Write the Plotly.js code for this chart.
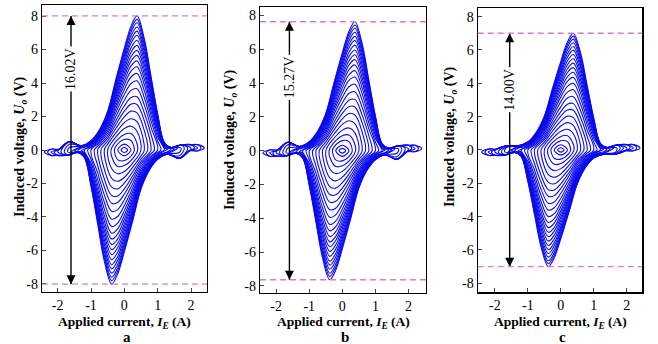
<!DOCTYPE html>
<html><head><meta charset="utf-8">
<script src="https://cdn.plot.ly/plotly-3.0.1.min.js"></script>
<style>html,body{margin:0;padding:0;background:#fff}#chart{width:658px;height:344px}</style>
</head><body><div id="chart"></div>
<script>
const _ = null;
// Applied current I_E (A) at which the rising branch of every loop was read
const currentGrid = [-2.2,-1.95,-1.65,-1.3,-1.0,-0.75,-0.5,-0.25,0,0.2,0.38,0.6,0.8,1.0,1.2,1.4,1.7,2.0,2.2];
// Current amplitude of each nested loop (A)
const loopAmps = [0.1,0.2,0.3,0.4,0.5,0.6,0.7,0.8,0.9,1.0,1.1,1.2,1.3,1.4,1.5,1.6,1.7,1.8,1.9,2.0,2.1,2.2,2.3,2.4];
// Voltage at the loop tips (V)
const tipVolts = [0,0,0,0,0,0,0,0,0,0,0,0,0.06,0.06,0.06,0.12,0.12,0.12,0.12,0.12,0.12,0.12,0.12,0.12];

// Rising-branch induced voltage U_o (V) of every loop, panel a
const risingA = [
[_,_,_,_,_,_,_,_,0.15,_,_,_,_,_,_,_,_,_,_],
[_,_,_,_,_,_,_,_,0.35,_,_,_,_,_,_,_,_,_,_],
[_,_,_,_,_,_,_,0.24,0.63,0.57,_,_,_,_,_,_,_,_,_],
[_,_,_,_,_,_,_,0.51,0.93,0.98,0.39,_,_,_,_,_,_,_,_],
[_,_,_,_,_,_,_,0.78,1.28,1.42,1.11,_,_,_,_,_,_,_,_],
[_,_,_,_,_,_,0.35,1.04,1.64,1.87,1.69,_,_,_,_,_,_,_,_],
[_,_,_,_,_,_,0.54,1.30,1.98,2.32,2.22,1.15,_,_,_,_,_,_,_],
[_,_,_,_,_,0.17,0.71,1.54,2.32,2.74,2.72,1.73,_,_,_,_,_,_,_],
[_,_,_,_,_,0.30,0.85,1.77,2.63,3.13,3.18,2.21,0.93,_,_,_,_,_,_],
[_,_,_,_,_,0.41,1.00,2.02,2.97,3.56,3.66,2.68,1.37,_,_,_,_,_,_],
[_,_,_,_,0.14,0.50,1.15,2.26,3.31,3.97,4.13,3.12,1.74,0.54,_,_,_,_,_],
[_,_,_,_,0.20,0.59,1.28,2.48,3.62,4.36,4.57,3.53,2.07,0.78,_,_,_,_,_],
[_,_,_,_,0.25,0.66,1.40,2.68,3.90,4.71,4.97,3.90,2.36,0.97,0.13,_,_,_,_],
[_,_,_,0.10,0.30,0.73,1.51,2.86,4.15,5.02,5.32,4.23,2.61,1.14,0.18,_,_,_,_],
[_,_,_,0.15,0.33,0.79,1.61,3.03,4.38,5.31,5.65,4.53,2.85,1.28,0.25,0.10,_,_,_],
[_,_,_,0.20,0.36,0.84,1.70,3.18,4.60,5.57,5.95,4.81,3.06,1.40,0.28,0.15,_,_,_],
[_,_,0.15,0.22,0.40,0.90,1.79,3.34,4.81,5.84,6.25,5.08,3.26,1.52,0.30,0.15,_,_,_],
[_,_,0.35,0.25,0.42,0.95,1.88,3.49,5.03,6.10,6.55,5.35,3.46,1.63,0.32,0.15,0.28,_,_],
[_,_,0.50,0.25,0.45,1.00,1.97,3.64,5.24,6.37,6.85,5.61,3.65,1.74,0.35,0.15,0.30,_,_],
[_,0.05,0.50,0.25,0.48,1.04,2.05,3.77,5.43,6.59,7.10,5.84,3.82,1.84,0.37,0.15,0.30,_,_],
[_,0.05,0.50,0.25,0.50,1.09,2.13,3.90,5.61,6.82,7.35,6.06,3.98,1.93,0.39,0.15,0.30,0.32,_],
[_,0.05,0.50,0.25,0.52,1.13,2.20,4.03,5.79,7.04,7.60,6.28,4.14,2.02,0.42,0.15,0.30,0.32,_],
[0.05,0.05,0.50,0.25,0.54,1.17,2.26,4.14,5.93,7.22,7.80,6.46,4.27,2.09,0.43,0.15,0.30,0.32,0.32],
[0.05,0.05,0.50,0.25,0.56,1.20,2.32,4.24,6.08,7.40,8.01,6.64,4.40,2.16,0.45,0.15,0.30,0.32,0.32]
];
// panel b
const risingB = [
[_,_,_,_,_,_,_,_,0.14,_,_,_,_,_,_,_,_,_,_],
[_,_,_,_,_,_,_,_,0.33,_,_,_,_,_,_,_,_,_,_],
[_,_,_,_,_,_,_,0.23,0.60,0.54,_,_,_,_,_,_,_,_,_],
[_,_,_,_,_,_,_,0.49,0.89,0.93,0.37,_,_,_,_,_,_,_,_],
[_,_,_,_,_,_,_,0.74,1.22,1.35,1.06,_,_,_,_,_,_,_,_],
[_,_,_,_,_,_,0.33,0.99,1.56,1.78,1.61,_,_,_,_,_,_,_,_],
[_,_,_,_,_,_,0.52,1.24,1.89,2.21,2.12,1.10,_,_,_,_,_,_,_],
[_,_,_,_,_,0.16,0.68,1.47,2.21,2.61,2.59,1.65,_,_,_,_,_,_,_],
[_,_,_,_,_,0.29,0.81,1.69,2.51,2.99,3.04,2.11,0.89,_,_,_,_,_,_],
[_,_,_,_,_,0.39,0.95,1.93,2.83,3.40,3.49,2.56,1.31,_,_,_,_,_,_],
[_,_,_,_,0.13,0.48,1.10,2.16,3.16,3.79,3.94,2.98,1.66,0.52,_,_,_,_,_],
[_,_,_,_,0.19,0.56,1.22,2.37,3.45,4.16,4.36,3.37,1.97,0.74,_,_,_,_,_],
[_,_,_,_,0.24,0.63,1.34,2.56,3.72,4.49,4.74,3.72,2.25,0.93,0.12,_,_,_,_],
[_,_,_,0.10,0.29,0.70,1.44,2.73,3.96,4.79,5.08,4.04,2.49,1.09,0.17,_,_,_,_],
[_,_,_,0.15,0.31,0.75,1.54,2.89,4.18,5.07,5.39,4.32,2.72,1.22,0.24,0.10,_,_,_],
[_,_,_,0.20,0.34,0.80,1.62,3.03,4.39,5.31,5.68,4.59,2.92,1.34,0.27,0.15,_,_,_],
[_,_,0.15,0.22,0.38,0.86,1.71,3.19,4.59,5.57,5.96,4.85,3.11,1.45,0.29,0.15,_,_,_],
[_,_,0.35,0.25,0.40,0.91,1.79,3.33,4.80,5.82,6.25,5.10,3.30,1.56,0.31,0.15,0.28,_,_],
[_,_,0.50,0.25,0.43,0.95,1.88,3.47,5.00,6.08,6.53,5.35,3.48,1.66,0.33,0.15,0.30,_,_],
[_,0.05,0.50,0.25,0.46,0.99,1.96,3.60,5.18,6.29,6.77,5.57,3.64,1.76,0.35,0.15,0.30,_,_],
[_,0.05,0.50,0.25,0.48,1.04,2.03,3.72,5.35,6.51,7.01,5.78,3.80,1.84,0.37,0.15,0.30,0.32,_],
[_,0.05,0.50,0.25,0.50,1.08,2.10,3.84,5.52,6.72,7.25,5.99,3.95,1.93,0.40,0.15,0.30,0.32,_],
[0.05,0.05,0.50,0.25,0.52,1.12,2.16,3.95,5.66,6.89,7.44,6.16,4.07,1.99,0.41,0.15,0.30,0.32,0.32],
[0.05,0.05,0.50,0.25,0.53,1.14,2.21,4.04,5.80,7.06,7.635,6.33,4.20,2.06,0.43,0.15,0.30,0.32,0.32]
];
// panel c
const risingC = [
[_,_,_,_,_,_,_,_,0.13,_,_,_,_,_,_,_,_,_,_],
[_,_,_,_,_,_,_,_,0.31,_,_,_,_,_,_,_,_,_,_],
[_,_,_,_,_,_,_,0.21,0.55,0.50,_,_,_,_,_,_,_,_,_],
[_,_,_,_,_,_,_,0.45,0.81,0.86,0.34,_,_,_,_,_,_,_,_],
[_,_,_,_,_,_,_,0.68,1.12,1.24,0.97,_,_,_,_,_,_,_,_],
[_,_,_,_,_,_,0.31,0.91,1.44,1.64,1.48,_,_,_,_,_,_,_,_],
[_,_,_,_,_,_,0.47,1.14,1.73,2.03,1.94,1.01,_,_,_,_,_,_,_],
[_,_,_,_,_,0.15,0.62,1.35,2.03,2.40,2.38,1.51,_,_,_,_,_,_,_],
[_,_,_,_,_,0.26,0.74,1.55,2.30,2.74,2.78,1.93,0.81,_,_,_,_,_,_],
[_,_,_,_,_,0.36,0.88,1.77,2.60,3.12,3.20,2.35,1.20,_,_,_,_,_,_],
[_,_,_,_,0.12,0.44,1.01,1.98,2.90,3.47,3.61,2.73,1.52,0.47,_,_,_,_,_],
[_,_,_,_,0.18,0.52,1.12,2.17,3.17,3.82,4.00,3.09,1.81,0.68,_,_,_,_,_],
[_,_,_,_,0.22,0.58,1.23,2.35,3.41,4.12,4.35,3.41,2.07,0.85,0.11,_,_,_,_],
[_,_,_,0.10,0.26,0.64,1.32,2.50,3.63,4.39,4.66,3.70,2.28,1.00,0.16,_,_,_,_],
[_,_,_,0.15,0.29,0.69,1.41,2.65,3.83,4.65,4.94,3.96,2.49,1.12,0.22,0.10,_,_,_],
[_,_,_,0.20,0.32,0.74,1.49,2.78,4.03,4.87,5.21,4.21,2.68,1.23,0.25,0.15,_,_,_],
[_,_,0.15,0.22,0.35,0.79,1.57,2.92,4.21,5.11,5.47,4.45,2.85,1.33,0.26,0.15,_,_,_],
[_,_,0.20,0.25,0.37,0.83,1.65,3.05,4.40,5.34,5.73,4.68,3.03,1.43,0.28,0.15,0.28,_,_],
[_,_,0.25,0.25,0.39,0.88,1.72,3.19,4.59,5.57,5.99,4.91,3.19,1.52,0.31,0.15,0.30,_,_],
[_,0.05,0.25,0.25,0.42,0.91,1.79,3.30,4.75,5.77,6.21,5.11,3.34,1.61,0.32,0.15,0.30,_,_],
[_,0.05,0.25,0.25,0.44,0.95,1.86,3.41,4.91,5.97,6.43,5.30,3.48,1.69,0.34,0.15,0.30,0.32,_],
[_,0.05,0.25,0.25,0.46,0.99,1.93,3.53,5.07,6.16,6.65,5.50,3.62,1.77,0.37,0.15,0.30,0.32,_],
[0.05,0.05,0.25,0.25,0.47,1.02,1.98,3.62,5.19,6.32,6.83,5.65,3.74,1.83,0.38,0.15,0.30,0.32,0.32],
[0.05,0.05,0.25,0.25,0.49,1.05,2.03,3.71,5.32,6.48,7.00,5.81,3.85,1.89,0.39,0.15,0.30,0.32,0.32]
];

const panelLetters = ['a','b','c'];
const peakLevels = [8.01, 7.635, 7.00];          // dashed reference levels (±V)
const spanLabels = ['16.02V','15.27V','14.00V'];
const arrowCurrent = [-1.6, -1.6, -1.55];        // I_E of the double arrow
const labelVolt = [4.84, 4.37, 3.6];             // centre of the span label
const xTickVals = [-2,-1,0,1,2];
const xTickText = ['-2','-1','0','1','2'];
const yTickVals = [-8,-6,-4,-2,0,2,4,6,8];
const yTickText = ['-8','-6','-4','-2','0','2','4','6','8'];

const W = 658, H = 344;
const frames = [ // plot-area pixel boxes [left, right, top, bottom]
  [42, 207, 5, 292],
  [260, 426, 7.3, 292.7],
  [477.7, 642.3, 8.3, 292.3]
];
const yRanges = [[-8.48, 8.66], [-8.40, 8.49], [-8.54, 8.50]];
const xRanges = [[-2.47, 2.48], [-2.49, 2.53], [-2.52, 2.47]];
const yTitlePos = [[20, 147], [230, 140], [450, 136]];

const LOOP_COLOR = '#0a0aee';
const FONT = '"Liberation Serif", "Times New Roman", Times, serif';

const traces = [];
const layout = {
  width: W, height: H, margin: {l:0, r:0, t:0, b:0},
  paper_bgcolor: '#fff', plot_bgcolor: '#fff', showlegend: false,
  font: {family: FONT, size: 14, color: '#000'},
  shapes: [], annotations: []
};

[risingA, risingB, risingC].forEach((rows, p) => {
  const xa = p === 0 ? 'x' : 'x' + (p + 1);
  const ya = p === 0 ? 'y' : 'y' + (p + 1);
  rows.forEach((row, k) => {
    const A = loopAmps[k], t = tipVolts[k];
    const ux = [-A], uy = [-t];
    currentGrid.forEach((x, i) => {
      if (row[i] !== null && Math.abs(x) < A) { ux.push(x); uy.push(row[i]); }
    });
    ux.push(A); uy.push(t);
    // falling (return) branch: point-symmetric image of the rising branch
    const xs = ux.concat(ux.slice(1).map(v => -v));
    const ys = uy.concat(uy.slice(1).map(v => -v));
    traces.push({type: 'scatter', mode: 'lines', x: xs, y: ys, xaxis: xa, yaxis: ya,
      line: {color: LOOP_COLOR, width: 1.1, shape: 'spline', smoothing: 1},
      hoverinfo: 'skip', showlegend: false});
  });

  // double-headed span arrow, drawn as a line with triangle heads
  traces.push({type: 'scatter', mode: 'lines', x: [arrowCurrent[p], arrowCurrent[p]],
    y: [-peakLevels[p], peakLevels[p]], xaxis: xa, yaxis: ya,
    line: {color: '#000', width: 1.4}, hoverinfo: 'skip', showlegend: false});
  traces.push({type: 'scatter', mode: 'markers', x: [arrowCurrent[p], arrowCurrent[p]],
    y: [-peakLevels[p], peakLevels[p]], xaxis: xa, yaxis: ya,
    marker: {symbol: ['arrow-down', 'arrow-up'], size: 9, color: '#000', line: {width: 0}},
    hoverinfo: 'skip', showlegend: false});

  const [L, R, T, B] = frames[p];
  const axName = p === 0 ? '' : String(p + 1);
  layout['xaxis' + axName] = {
    domain: [L / W, R / W], anchor: ya, range: xRanges[p],
    tickvals: xTickVals, ticktext: xTickText, ticks: 'inside', ticklen: 4, tickwidth: 1,
    showline: true, mirror: true, linecolor: '#000', linewidth: 1.2,
    showgrid: false, zeroline: false, tickfont: {family: FONT, size: 14}
  };
  layout['yaxis' + axName] = {
    domain: [(H - B) / H, (H - T) / H], anchor: xa, range: yRanges[p],
    tickvals: yTickVals, ticktext: yTickText, ticks: 'inside', ticklen: 4, tickwidth: 1,
    showline: true, mirror: true, linecolor: '#000', linewidth: 1.2,
    showgrid: false, zeroline: false, tickfont: {family: FONT, size: 14}
  };

  [peakLevels[p], -peakLevels[p]].forEach(v => {
    layout.shapes.push({type: 'line', xref: xa + ' domain', yref: ya, x0: 0, x1: 1, y0: v, y1: v,
      line: {color: '#de78cf', width: 1.4, dash: '6px,4px'}});
  });

  layout.annotations.push({
    xref: xa, yref: ya, x: arrowCurrent[p], y: labelVolt[p], text: spanLabels[p],
    xanchor: 'center', yanchor: 'middle',
    showarrow: false, textangle: -90, bgcolor: '#fff', borderpad: 1,
    font: {family: FONT, size: 14, color: '#000'}
  });
  layout.annotations.push({
    xref: 'paper', yref: 'paper', x: yTitlePos[p][0] / W, y: 1 - yTitlePos[p][1] / H,
    xanchor: 'center', yanchor: 'middle',
    text: '<b>Induced voltage, <i>U</i><sub><i>o</i></sub> (V)</b>', showarrow: false, textangle: -90,
    font: {family: FONT, size: 14, color: '#000'}
  });
  layout.annotations.push({
    xref: 'paper', yref: 'paper', x: ((L + R) / 2) / W, y: 1 - 322 / H,
    xanchor: 'center', yanchor: 'middle',
    text: '<b>Applied current, <i>I</i><sub><i>E</i></sub> (A)</b>', showarrow: false,
    font: {family: FONT, size: 13.5, color: '#000'}
  });
  layout.annotations.push({
    xref: 'paper', yref: 'paper', x: ((L + R) / 2 + 2) / W, y: 1 - 337 / H,
    xanchor: 'center', yanchor: 'middle',
    text: '<b>' + panelLetters[p] + '</b>', showarrow: false,
    font: {family: FONT, size: 15, color: '#000'}
  });
});

Plotly.newPlot('chart', traces, layout, {staticPlot: true, displayModeBar: false});
</script>
</body></html>
